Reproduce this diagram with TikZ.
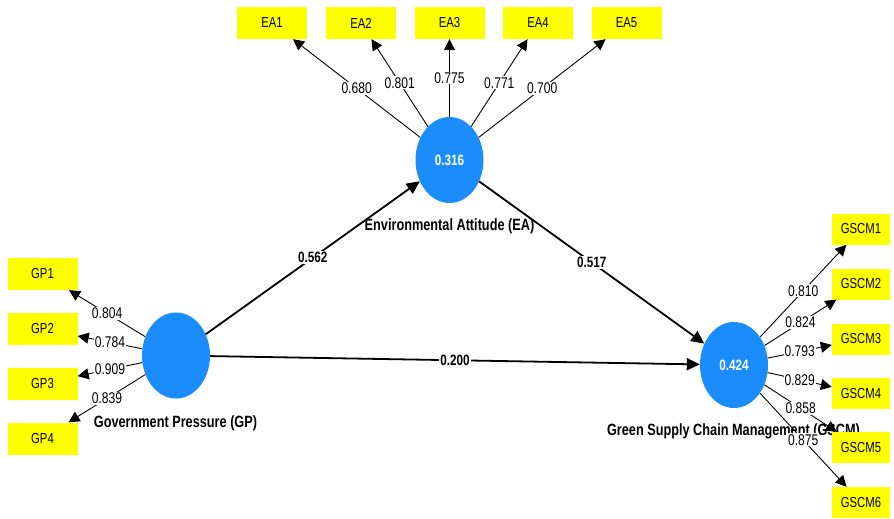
\documentclass[tikz,border=0pt]{standalone}
\usepackage{fontspec}
\setmainfont[FakeStretch=0.78]{Liberation Sans}
\usetikzlibrary{shapes.geometric,arrows.meta}
\definecolor{lvblue}{RGB}{26,140,252}
\definecolor{mvyellow}{RGB}{255,255,0}
\tikzset{
  latent/.style={ellipse, fill=lvblue, draw=none, minimum width=68pt, minimum height=86pt,
    inner sep=0pt, text=white, font=\fontsize{15}{18}\selectfont\bfseries},
  indbox/.style={rectangle, fill=mvyellow, draw=none, minimum width=70pt, minimum height=32pt,
    inner sep=0pt, font=\fontsize{14.5}{17}\selectfont},
  gbox/.style={indbox, minimum width=58pt, minimum height=31pt},
  loading/.style={line width=0.9pt, -{Triangle[length=11pt,width=11pt]}},
  loadlab/.style={fill=white, inner sep=1pt, font=\fontsize{15.5}{18}\selectfont},
  pathcoef/.style={line width=1.8pt, -{Triangle[length=13pt,width=12pt]}},
  pathlab/.style={fill=white, inner sep=1pt, font=\fontsize{15}{18}\selectfont\bfseries},
  lvname/.style={inner sep=0pt, font=\fontsize{16.3}{19}\selectfont\bfseries}
}
\begin{document}
\begin{tikzpicture}[x=1pt,y=-1pt]
\useasboundingbox (0,0) rectangle (894,519);
\fill[white] (0,0) rectangle (894,519);

% construct names (behind everything else)
\node[lvname] (nEA) at (449.5,226.5) {Environmental Attitude (EA)};
\node[lvname] (nGP) at (175.5,423.5) {Government Pressure (GP)};
\node[lvname] (nGSCM) at (733.5,431) {Green Supply Chain Management (GSCM)};

% latent variables
\node[latent] (EA) at (449.5,160) {0.316};
\node[latent] (GP) at (176,355.5) {};
\node[latent] (GSCM) at (734,365) {0.424};

% indicators of EA
\node[indbox] (ea1) at (272,23) {EA1};
\node[indbox] (ea2) at (361,23) {EA2};
\node[indbox] (ea3) at (449.5,23) {EA3};
\node[indbox] (ea4) at (538,23) {EA4};
\node[indbox] (ea5) at (626.5,23) {EA5};

% indicators of GP
\node[indbox] (gp1) at (42.5,274) {GP1};
\node[indbox] (gp2) at (42.5,329) {GP2};
\node[indbox] (gp3) at (42.5,383.5) {GP3};
\node[indbox] (gp4) at (42.5,438.5) {GP4};

% indicators of GSCM
\node[gbox] (g1) at (861,229) {GSCM1};
\node[gbox] (g2) at (861,284) {GSCM2};
\node[gbox] (g3) at (861,339) {GSCM3};
\node[gbox] (g4) at (861,393.5) {GSCM4};
\node[gbox] (g5) at (861,447.5) {GSCM5};
\node[gbox] (g6) at (861,502.5) {GSCM6};

% outer loadings
\draw[loading] (EA) -- node[loadlab]{0.680} (ea1);
\draw[loading] (EA) -- node[loadlab]{0.801} (ea2);
\draw[loading] (EA) -- node[loadlab]{0.775} (ea3);
\draw[loading] (EA) -- node[loadlab]{0.771} (ea4);
\draw[loading] (EA) -- node[loadlab]{0.700} (ea5);

\draw[loading] (GP) -- node[loadlab]{0.804} (gp1);
\draw[loading] (GP) -- node[loadlab]{0.784} (gp2);
\draw[loading] (GP) -- node[loadlab]{0.909} (gp3);
\draw[loading] (GP) -- node[loadlab]{0.839} (gp4);

\draw[loading] (GSCM) -- node[loadlab]{0.810} (g1);
\draw[loading] (GSCM) -- node[loadlab]{0.824} (g2);
\draw[loading] (GSCM) -- node[loadlab]{0.793} (g3);
\draw[loading] (GSCM) -- node[loadlab]{0.829} (g4);
\draw[loading] (GSCM) -- node[loadlab]{0.858} (g5);
\draw[loading] (GSCM) -- node[loadlab]{0.875} (g6);

% structural paths
\draw[pathcoef] (GP) -- node[pathlab]{0.562} (EA);
\draw[pathcoef] (EA) -- node[pathlab]{0.517} (GSCM);
\draw[pathcoef] (GP) -- node[pathlab]{0.200} (GSCM);
\end{tikzpicture}
\end{document}
